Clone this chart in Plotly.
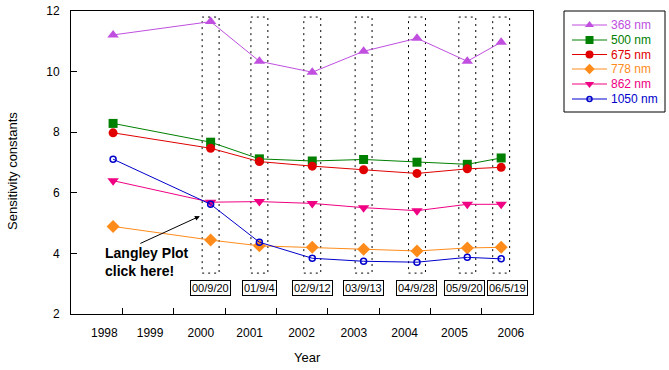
import plotly.graph_objects as go

# ---------------- data ----------------
dates = [1998.82, 2000.72, 2001.67, 2002.70, 2003.70, 2004.74, 2005.72, 2006.38]
date_labels = ["00/9/20", "01/9/4", "02/9/12", "03/9/13", "04/9/28", "05/9/20", "06/5/19"]
years = [1998, 1999, 2000, 2001, 2002, 2003, 2004, 2005, 2006]
year_label_offsets = [0.65, 0.54, 0.53, 0.48, 0.49, 0.51, 0.50, 0.47, 0.57]
y_ticks = [2, 4, 6, 8, 10, 12]

series_names = ["368 nm", "500 nm", "675 nm", "778 nm", "862 nm", "1050 nm"]
v368 = [11.21, 11.65, 10.34, 9.98, 10.67, 11.10, 10.34, 10.97]
v500 = [8.29, 7.67, 7.12, 7.05, 7.10, 7.01, 6.94, 7.15]
v675 = [7.98, 7.47, 7.03, 6.88, 6.76, 6.64, 6.79, 6.84]
v778 = [4.89, 4.44, 4.25, 4.20, 4.14, 4.08, 4.18, 4.20]
v862 = [6.40, 5.69, 5.71, 5.65, 5.51, 5.41, 5.62, 5.62]
v1050 = [7.11, 5.62, 4.37, 3.84, 3.74, 3.71, 3.87, 3.82]
series_values = [v368, v500, v675, v778, v862, v1050]

# ---------------- styles ----------------
colors = ["#C04FE0", "#008000", "#E00000", "#FF8C1A", "#F00082", "#0000CC"]
symbols = ["triangle-up", "square", "circle", "diamond", "triangle-down", "circle-open"]
msizes = [10, 9, 9, 10, 10, 6]
leg_msizes = [8, 8, 8, 8, 8, 5]
FONT = "Arial, Liberation Sans, sans-serif"

W, H = 669, 370
PL, PR, PT, PB = 71, 533, 11, 314  # plot area in px


def px_x(p):
    return p / W


def px_y(p):
    return 1 - p / H


fig = go.Figure()

for name, vals, c, s, ms in zip(series_names, series_values, colors, symbols, msizes):
    fig.add_trace(go.Scatter(
        x=dates, y=vals, mode="lines+markers", name=name,
        line=dict(color=c, width=1),
        marker=dict(symbol=s, size=ms, color=c, line=dict(color=c, width=1.5 if s == "circle-open" else 0)),
        showlegend=False, xaxis="x", yaxis="y", cliponaxis=False,
    ))

# ---------------- custom legend on an overlay axis (pixel coordinates) ----------------
LX0, LX1, LY0, LY1 = 564, 665, 11, 112
leg_rows = [25, 40, 54.5, 69, 84, 99]
for name, c, s, ms, ry in zip(series_names, colors, symbols, leg_msizes, leg_rows):
    fig.add_trace(go.Scatter(
        x=[572, 607], y=[ry, ry], mode="lines", line=dict(color=c, width=1),
        showlegend=False, xaxis="x2", yaxis="y2", hoverinfo="skip",
    ))
    fig.add_trace(go.Scatter(
        x=[589.5], y=[ry], mode="markers",
        marker=dict(symbol=s, size=ms, color=c, line=dict(color=c, width=1.5 if s == "circle-open" else 0)),
        showlegend=False, xaxis="x2", yaxis="y2", hoverinfo="skip",
    ))
    fig.add_annotation(x=609, y=ry, xref="x2", yref="y2", text=name, showarrow=False,
                       xanchor="left", yanchor="middle",
                       font=dict(family=FONT, size=12, color=c))

shapes = []
# legend box
shapes.append(dict(type="rect", xref="paper", yref="paper",
                   x0=px_x(LX0), x1=px_x(LX1), y0=px_y(LY1), y1=px_y(LY0),
                   line=dict(color="black", width=1), fillcolor="rgba(0,0,0,0)"))

# dotted rectangles around each measurement date
half_w = 0.165
for d in dates[1:]:
    shapes.append(dict(type="rect", xref="x", yref="y", x0=d - half_w, x1=d + half_w,
                       y0=3.35, y1=11.8, line=dict(color="black", width=1, dash="2px,4px"),
                       fillcolor="rgba(0,0,0,0)", layer="below"))

# date boxes
box_shift = [0, 0, 0, 0, 0, -3, 6]
for d, lab, sh in zip(dates[1:], date_labels, box_shift):
    fig.add_annotation(x=d, y=2.86, xref="x", yref="y", text=lab, showarrow=False,
                       xshift=sh, font=dict(family=FONT, size=11, color="black"),
                       bordercolor="black", borderwidth=1, borderpad=1, bgcolor="white")

# Langley annotation
fig.add_annotation(x=103 / W, y=px_y(262), xref="paper", yref="paper",
                   text="<b>Langley Plot<br>click here!</b>", showarrow=False,
                   xanchor="left", yanchor="middle", align="left",
                   font=dict(family=FONT, size=14, color="black"))
fig.add_annotation(x=2000.51, y=5.23, xref="x", yref="y", text="", showarrow=True,
                   ax=-61, ay=28, arrowhead=2, arrowsize=1, arrowwidth=1, arrowcolor="black")

# axis titles
fig.add_annotation(x=px_x(307), y=px_y(357), xref="paper", yref="paper", text="Year",
                   showarrow=False, xanchor="center", yanchor="middle",
                   font=dict(family=FONT, size=13, color="black"))
fig.add_annotation(x=px_x(13), y=px_y(171), xref="paper", yref="paper",
                   text="Sensitivity constants", textangle=-90, showarrow=False,
                   xanchor="center", yanchor="middle",
                   font=dict(family=FONT, size=13, color="black"))

fig.update_layout(
    template="none",
    width=W, height=H, autosize=False,
    margin=dict(l=0, r=0, t=0, b=0, pad=0, autoexpand=False),
    paper_bgcolor="white", plot_bgcolor="white",
    font=dict(family=FONT, size=12, color="black"),
    shapes=shapes,
    showlegend=False,
    xaxis=dict(
        domain=[px_x(PL), px_x(PR)], range=[1998, 2007], anchor="y", automargin=False,
        tickmode="array",
        tickvals=[y + o for y, o in zip(years, year_label_offsets)],
        ticktext=[str(y) for y in years],
        ticks="", showgrid=False, zeroline=False,
        showline=True, linecolor="black", linewidth=1, mirror=True,
        ticklabelstandoff=8,
        tickfont=dict(family=FONT, size=12, color="black"),
        minor=dict(tickmode="array", tickvals=years[1:], ticks="inside", ticklen=6,
                   tickcolor="black", tickwidth=1, showgrid=False),
    ),
    yaxis=dict(
        domain=[px_y(PB), px_y(PT)], range=[2, 12], anchor="x", automargin=False,
        tickmode="array", tickvals=y_ticks, ticktext=[str(v) for v in y_ticks],
        ticks="inside", ticklen=6, tickcolor="black", tickwidth=1,
        showgrid=False, zeroline=False,
        showline=True, linecolor="black", linewidth=1, mirror=True,
        ticklabelstandoff=8,
        tickfont=dict(family=FONT, size=12, color="black"),
    ),
    xaxis2=dict(domain=[px_x(LX0), px_x(LX1)], range=[LX0, LX1], anchor="y2",
                visible=False, fixedrange=True, automargin=False),
    yaxis2=dict(domain=[px_y(LY1), px_y(LY0)], range=[LY1, LY0], anchor="x2",
                visible=False, fixedrange=True, automargin=False),
)

fig.write_html("out.html", config={"displayModeBar": False},
               post_script="document.body.style.margin='0px';document.body.style.overflow='hidden';")
